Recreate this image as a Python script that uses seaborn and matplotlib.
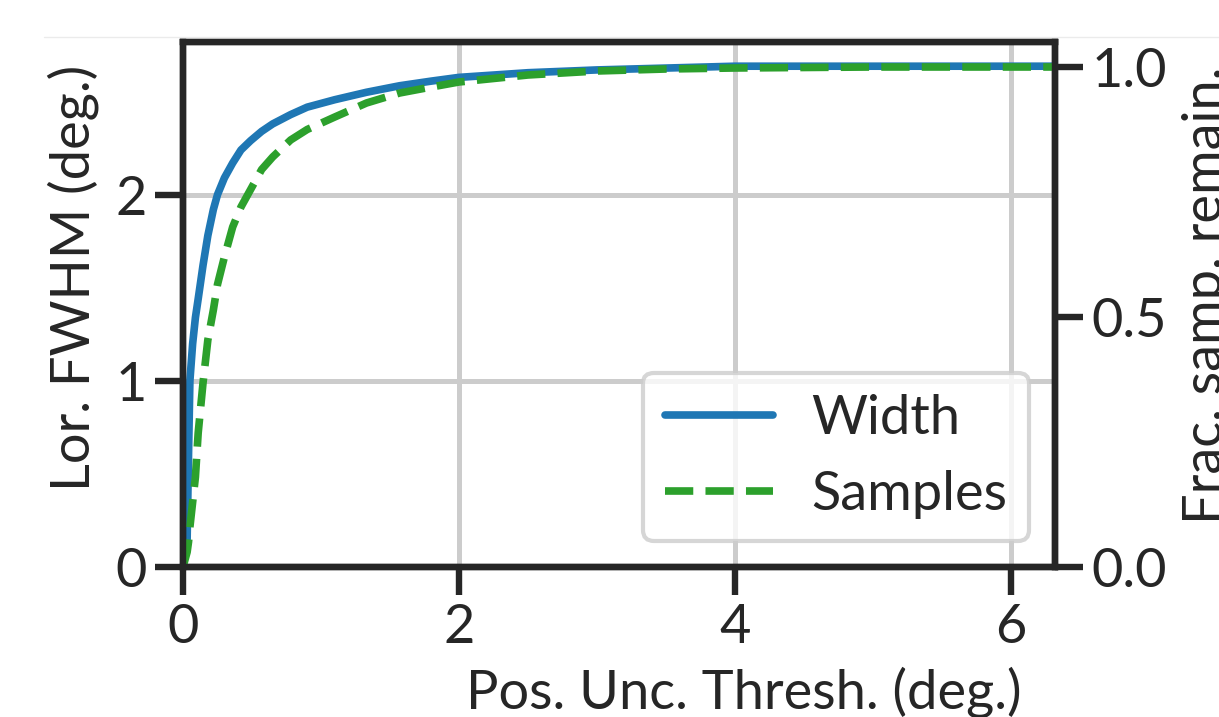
import numpy as np
import pandas as pd
import matplotlib.pyplot as plt
from matplotlib.lines import Line2D
import seaborn as sns

# values
thresh = [0.0, 0.03, 0.04, 0.05, 0.07, 0.09, 0.11, 0.145, 0.18, 0.22,
          0.25, 0.3, 0.36, 0.42, 0.49, 0.57, 0.65, 0.78, 0.9, 1.1,
          1.33, 1.57, 1.8, 2.0, 2.5, 3.0, 3.5, 4.0, 5.0, 6.4]
width = [0.0, 0.15, 0.6, 1.0, 1.2, 1.34, 1.44, 1.62, 1.78, 1.92,
         2.0, 2.09, 2.17, 2.24, 2.29, 2.34, 2.38, 2.43, 2.47, 2.51,
         2.55, 2.585, 2.61, 2.63, 2.655, 2.67, 2.68, 2.69, 2.69, 2.69]
samples = [0.0, 0.03, 0.05, 0.08, 0.13, 0.18, 0.268, 0.368, 0.454, 0.514,
           0.565, 0.62, 0.68, 0.72, 0.755, 0.795, 0.82, 0.854, 0.875, 0.90,
           0.928, 0.948, 0.96, 0.97, 0.984, 0.992, 0.996, 0.998, 1.0, 1.0]
x_ticks = [0, 2, 4, 6]
left_ticks = [0, 1, 2]
right_ticks = [0.0, 0.5, 1.0]

df = pd.DataFrame({'thresh': thresh, 'width': width, 'samples': samples})

sns.set_theme(style='ticks')
plt.rcParams['font.family'] = ['Lato', 'DejaVu Sans']
fs = 39
dark = '#262626'

fig = plt.figure(figsize=(12.19, 7.17), dpi=100)
ax = fig.add_axes([183/1219, 1 - 567/717, 872/1219, 525/717])
ax2 = ax.twinx()

sns.lineplot(data=df, x='thresh', y='width', ax=ax, color='#1f77b4',
             lw=5.5, label='Width')
sns.lineplot(data=df, x='thresh', y='samples', ax=ax2, color='#2ca02c',
             lw=5.5, linestyle='--', label='Samples')

ax.set_xlim(0, 6.32)
ax.set_ylim(0, 2.82)
ax2.set_ylim(0, 1.05)
ax.set_xticks(x_ticks)
ax.set_yticks(left_ticks)
ax2.set_yticks(right_ticks)
ax.set_xlabel('')
ax.set_ylabel('')
ax2.set_ylabel('')

ax.grid(True, color='#cccccc', lw=3.6)
ax.set_axisbelow(True)

for a in (ax, ax2):
    for s in a.spines.values():
        s.set_visible(True)
        s.set_linewidth(4.6)
        s.set_color(dark)
    a.tick_params(length=20, width=4.6, pad=6, labelsize=fs,
                  colors=dark, labelcolor=dark)

h1, l1 = ax.get_legend_handles_labels()
h2, l2 = ax2.get_legend_handles_labels()
ax.get_legend().remove()
leg = ax2.legend(h1 + h2, l1 + l2, loc='lower right', fontsize=fs,
                 frameon=True, framealpha=0.8, edgecolor='#cccccc',
                 handlelength=2.0, handletextpad=0.7, borderaxespad=0.48)
leg.get_frame().set_linewidth(3)
for t in leg.get_texts():
    t.set_color(dark)

# axis labels (the reference is cropped, so they sit at the edges)
fig.text(73/1219, 1 - 278/717, 'Lor. FWHM (deg.)', rotation=90,
         ha='center', va='center', fontsize=fs, color=dark)
fig.text(1182/1219, 1 - 295/717, 'Frac. samp. remain.', rotation=90,
         ha='left', va='center', fontsize=fs, color=dark)
fig.text(744/1219, 1 - 709/717, 'Pos. Unc. Thresh. (deg.)',
         ha='center', va='baseline', fontsize=fs, color=dark)

fig.add_artist(Line2D([44/1219, 1], [1 - 37/717, 1 - 37/717],
                      transform=fig.transFigure, color='#ebebeb', lw=1))

plt.savefig('out.png', dpi=100)
